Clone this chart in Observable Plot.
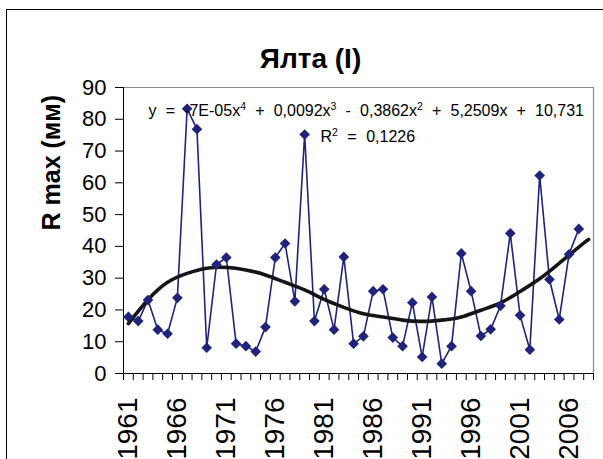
<!DOCTYPE html>
<html><head><meta charset="utf-8">
<script src="https://cdn.jsdelivr.net/npm/d3@7"></script>
<script src="https://cdn.jsdelivr.net/npm/@observablehq/plot@0.6"></script>
<style>
body{margin:0;background:#fff;}
#wrap{position:relative;width:603px;height:459px;overflow:hidden;}
#border{position:absolute;left:6px;top:9px;width:700px;height:600px;border:1px solid #000;}
#chart{position:absolute;left:0;top:0;}
</style></head><body>
<div id="wrap"><div id="border"></div><div id="chart"></div></div>
<script>
// Categories (years) — the axis has one extra empty category (2008)
const years = d3.range(1961, 2008);
const categoryYears = d3.range(1961, 2009);
const rMax = [17.8,16.5,23.1,13.8,12.5,23.8,83.3,76.9,8.1,34.3,36.5,9.4,8.6,6.9,14.6,36.5,
  40.9,22.7,75.2,16.5,26.5,13.8,36.7,9.4,11.7,25.9,26.5,11.3,8.6,22.3,5.2,24.1,3.1,8.6,
  37.8,25.9,11.8,13.9,21.3,44.1,18.3,7.5,62.3,29.6,17.0,37.5,45.5];
// Polynomial trend line
const trendYears = [1961,1963,1965,1967,1969,1971,1973,1975,1977,1979,1981,1983,1985,1987,1989,1991,1993,1995,1997,1999,2001,2003,2005,2007,2008];
const trendValues = [15.7,23.2,28.7,31.5,33.1,33.4,32.6,31.0,28.7,26.3,23.3,20.8,18.8,17.8,16.8,16.4,16.8,17.8,19.9,22.2,25.8,29.8,34.7,39.8,42.2];
const yTicks = [0,10,20,30,40,50,60,70,80,90];
const xLabelYears = [1961,1966,1971,1976,1981,1986,1991,1996,2001,2006];
const titleText = "Ялта (I)";
const yLabelText = "R max (мм)";
const eqParts = [["y = -7E-05x","4"],[" + 0,0092x","3"],[" - 0,3862x","2"],[" + 5,2509x + 10,731",""]];
const r2Parts = [["R","2"],[" = 0,1226",""]];

const data = years.map((y,i)=>({year:y, r:rMax[i]}));
const trend = trendYears.map((y,i)=>({year:y, v:trendValues[i]}));
const boundaries = categoryYears.map(y=>y-0.5).concat([categoryYears[categoryYears.length-1]+0.5]);
const xMin = boundaries[0], xMax = boundaries[boundaries.length-1];
const yMax = yTicks[yTicks.length-1];
const eqString = eqParts.map(p=>p.join("")).join("");
const r2String = r2Parts.map(p=>p.join("")).join("");
const navy = "#20237a";

const svg = Plot.plot({
  width: 603, height: 459,
  marginLeft: 123, marginRight: 10, marginTop: 87, marginBottom: 86,
  x: {domain: [xMin, xMax]},
  y: {domain: [0, yMax]},
  style: {fontFamily: "'Liberation Sans', Arial, sans-serif", background: "transparent", color: "#000"},
  marks: [
    Plot.ruleY([yMax], {stroke: "#8a8a8a", strokeWidth: 1.2}),
    Plot.ruleX([xMax], {stroke: "#8a8a8a", strokeWidth: 1.2}),
    Plot.axisY({ticks: yTicks, tickSize: 8, tickPadding: 9, fontSize: 22, label: null}),
    Plot.axisX({ticks: boundaries, tickSize: 7, tickFormat: () => "", label: null}),
    Plot.axisX({ticks: xLabelYears, tickSize: 0, tickPadding: 24, tickRotate: -90, fontSize: 28, tickFormat: d => String(d), label: null}),
    Plot.ruleX([xMin], {stroke: "#000"}),
    Plot.ruleY([0], {stroke: "#000"}),
    Plot.lineY(data, {x: "year", y: "r", stroke: navy, strokeWidth: 1.6}),
    Plot.line(trend, {x: "year", y: "v", curve: "natural", stroke: "#151515", strokeWidth: 3.6}),
    Plot.dot(data, {x: "year", y: "r", symbol: "diamond2", fill: navy, r: 4.8}),
    Plot.text([titleText], {frameAnchor: "top-left", dx: 187, dy: -39, fontSize: 28, fontWeight: "bold", textAnchor: "middle"}),
    Plot.text([yLabelText], {frameAnchor: "left", dx: -72, rotate: -90, fontSize: 25, fontWeight: "bold"}),
    Plot.text([eqString], {frameAnchor: "top-left", dx: 25, dy: 17, fontSize: 16, textAnchor: "start"}),
    Plot.text([r2String], {frameAnchor: "top-left", dx: 197, dy: 43, fontSize: 16, textAnchor: "start"})
  ]
});

function rebuild(str, parts, wordSpacing) {
  d3.select(svg).selectAll("text").filter(function(){ return this.textContent === str; }).each(function(){
    const t = d3.select(this);
    t.text(null).style("word-spacing", wordSpacing + "px");
    let raised = false;
    for (const [base, sup] of parts) {
      const b = t.append("tspan").text(base);
      if (raised) { b.attr("dy", 6); raised = false; }
      if (sup) { t.append("tspan").attr("dy", -6).attr("font-size", 10.5).text(sup); raised = true; }
    }
  });
}
rebuild(eqString, eqParts, 4.7);
rebuild(r2String, r2Parts, 5);
document.getElementById("chart").appendChild(svg);
</script>
</body></html>
